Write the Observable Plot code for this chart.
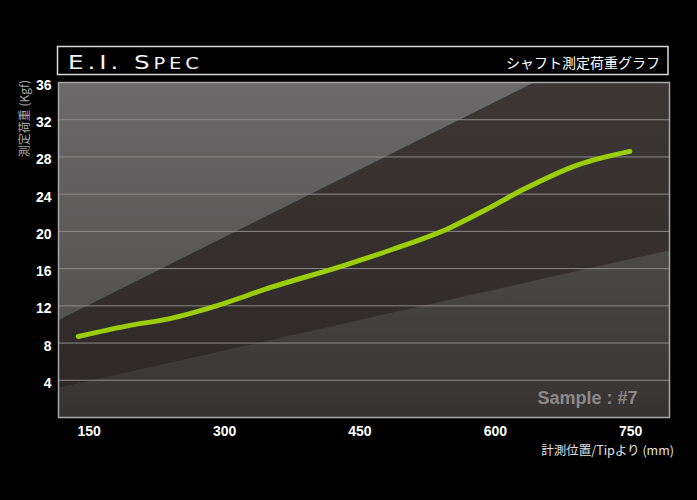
<!DOCTYPE html>
<html>
<head>
<meta charset="utf-8">
<script src="https://cdn.jsdelivr.net/npm/d3@7"></script>
<script src="https://cdn.jsdelivr.net/npm/@observablehq/plot@0.6"></script>
<style>
html,body{margin:0;padding:0;background:#000;}
#chart{width:697px;height:500px;overflow:hidden;background:#000;}
</style>
</head>
<body>
<div id="chart"></div>
<script>
// ---- data ----
const xTicks = [150, 300, 450, 600, 750];
const yTicks = [4, 8, 12, 16, 20, 24, 28, 32, 36];
const gridVals = [4, 8, 12, 16, 20, 24, 28, 32];
const positions = [138, 195, 238, 291, 352, 431, 484, 550, 589, 633, 690, 749];
const loads = [8.7, 9.9, 10.6, 12.0, 14.0, 16.3, 18.0, 20.4, 22.3, 24.6, 27.1, 28.6];
const bandPos = [116, 793];
const bandLow = [3.1, 17.9];
const bandHigh = [10.4, 43.2];
const sampleLabel = ["Sample : #7"];
const titleMain = "E.I. S";
const titleSmall = "PEC";
const titleRight = "シャフト測定荷重グラフ";
const yTitle = "測定荷重 (Kgf)";
const xTitle = "計測位置/Tipより (mm)";

const lineData = positions.map((p, i) => ({p, v: loads[i]}));
const band = bandPos.map((p, i) => ({p, lo: bandLow[i], hi: bandHigh[i]}));

const defs = () => {
  const d = d3.create("svg:defs");
  const mk = (id, c0, c1) => {
    const g = d.append("linearGradient").attr("id", id)
      .attr("gradientUnits", "userSpaceOnUse")
      .attr("x1", 0).attr("x2", 0).attr("y1", 82).attr("y2", 417);
    g.append("stop").attr("offset", 0).attr("stop-color", c0);
    g.append("stop").attr("offset", 1).attr("stop-color", c1);
  };
  mk("bgGrad", "#6b6969", "#4a4747");
  mk("bandGrad", "#3c3735", "#2d2726");
  mk("lowGrad", "#626060", "#363232");
  return d.node();
};

const svg = Plot.plot({
  width: 697,
  height: 500,
  marginLeft: 58,
  marginRight: 28,
  marginTop: 82,
  marginBottom: 83,
  style: {background: "#000", color: "#fff", fontFamily: "'Liberation Sans', Arial, sans-serif"},
  x: {domain: [116, 793]},
  y: {domain: [0, 36]},
  marks: [
    defs,
    Plot.frame({fill: "url(#bgGrad)"}),
    Plot.areaY(band, {x: "p", y1: 0, y2: "lo", fill: "url(#lowGrad)", clip: true}),
    Plot.areaY(band, {x: "p", y1: "lo", y2: "hi", fill: "url(#bandGrad)", clip: true}),
    Plot.ruleY(gridVals, {stroke: "#8e8a8a", strokeWidth: 1}),
    Plot.line(lineData, {x: "p", y: "v", stroke: "#9acd0a", strokeWidth: 5, strokeLinecap: "round", strokeLinejoin: "round", curve: "monotone-x"}),
    Plot.text(sampleLabel, {frameAnchor: "bottom-right", textAnchor: "end", lineAnchor: "middle", dx: -32, dy: -19, fill: "#8c8888", fontSize: 18, fontWeight: "bold"}),
    Plot.axisX({ticks: xTicks, tickSize: 0, tickPadding: 9, fontSize: 14, fontWeight: "bold", fill: "#fff", label: null}),
    Plot.axisY({ticks: yTicks, tickSize: 0, tickPadding: 7, fontSize: 14, fontWeight: "bold", fill: "#fff", dy: 3, label: null}),
    Plot.frame({stroke: "#a8a6a6", strokeWidth: 1.5})
  ]
});

const s = d3.select(svg);
// title box
s.append("rect").attr("x", 57.5).attr("y", 46.5).attr("width", 610.5).attr("height", 28)
  .attr("fill", "#000").attr("stroke", "#d6d6d6").attr("stroke-width", 1.5);
const t = s.append("text").attr("transform", "translate(68,69.3) scale(1.3,1)")
  .attr("text-anchor", "start")
  .attr("fill", "#f2f2f2").attr("font-family", "'DejaVu Sans', sans-serif")
  .attr("font-size", 19).attr("letter-spacing", 3);
t.append("tspan").text(titleMain);
t.append("tspan").attr("font-size", 15).text(titleSmall);
s.append("text").attr("x", 660).attr("y", 68).attr("text-anchor", "end")
  .attr("fill", "#fff").attr("font-family", "'Noto Sans CJK JP', sans-serif").attr("font-size", 14)
  .text(titleRight);
s.append("text").attr("transform", "translate(28.6,80) rotate(-90)").attr("text-anchor", "end")
  .attr("fill", "#aaa").attr("font-family", "'Noto Sans CJK JP', sans-serif").attr("font-size", 12)
  .text(yTitle);
s.append("text").attr("x", 674).attr("y", 454.7).attr("text-anchor", "end")
  .attr("fill", "#e0e0e0").attr("font-family", "'Noto Sans CJK JP', sans-serif").attr("font-size", 12.5)
  .text(xTitle);

document.getElementById("chart").appendChild(svg);
</script>
</body>
</html>
